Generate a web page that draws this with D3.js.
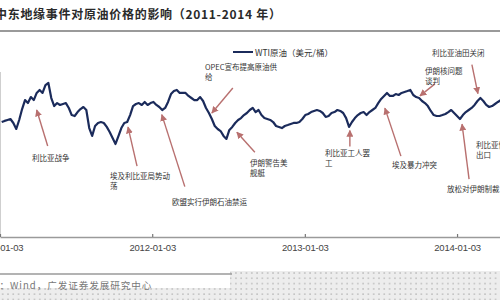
<!DOCTYPE html>
<html>
<head>
<meta charset="utf-8">
<script src="https://cdn.jsdelivr.net/npm/d3@7/dist/d3.min.js"></script>
<style>
  html, body { margin: 0; padding: 0; background: #fff; }
  svg { display: block; }
</style>
</head>
<body>
<svg id="chart" width="500" height="300"></svg>
<script>
// WTI crude, weekly (Friday) readings, USD per barrel
const wti2011 = [
  88.3, 89.0, 89.6, 90.2, 87.7, 83.9, 89.6, 96.5, 102.2, 100.3,
  104.1, 102.2, 106.7, 108.6, 106.7, 111.7, 113.0, 103.5, 98.4, 100.3,
  99.1, 99.7, 100.3, 97.2, 92.7, 92.1, 94.6, 96.5, 97.8, 95.9,
  84.5, 79.5, 85.8, 87.7, 88.3, 87.7, 85.2, 82.0, 78.2, 74.4,
  79.4, 84.5, 87.7, 88.3, 92.7, 98.4, 99.7, 100.3, 99.1, 101.0,
  99.1, 100.3
];
const wti2012 = [
  101.0, 99.1, 97.8, 95.9, 97.2, 101.0, 106.0, 107.9, 108.6, 106.7,
  106.7, 106.7, 104.8, 103.5, 102.2, 102.2, 104.1, 101.6, 97.2, 94.0,
  90.2, 85.8, 83.9, 82.6, 79.5, 77.6, 83.3, 85.2, 87.7, 89.6,
  90.8, 92.7, 94.0, 95.9, 97.2, 94.6, 95.9, 92.7, 90.8, 90.2,
  89.6, 88.3, 85.8, 85.2, 84.5, 85.8, 86.4, 87.1, 87.7, 87.7,
  88.3, 90.2
];
const wti2013 = [
  92.7, 93.4, 94.6, 95.3, 95.9, 95.3, 94.0, 91.5, 92.1, 94.0,
  94.6, 95.9, 95.3, 94.0, 90.8, 85.2, 88.3, 90.8, 92.7, 94.0,
  94.6, 92.7, 94.6, 95.9, 97.2, 100.3, 102.9, 104.8, 106.7, 104.8,
  104.8, 106.0, 105.4, 106.7, 107.3, 107.9, 108.6, 105.4, 104.1, 103.5,
  101.6, 100.3, 98.4, 95.3, 92.7, 92.1, 92.1, 92.7, 93.4, 94.6,
  95.9, 94.0
];
const wti2014 = [
  92.1, 90.2, 92.7, 94.6, 95.9, 97.2, 99.1, 101.6, 103.5, 101.6,
  99.1, 97.8, 98.4, 99.7, 101.0, 102.2
];

const tickDates = ["2011-01-03", "2012-01-03", "2013-01-03", "2014-01-03"];

// Geopolitical events and their labels
const eventDates = [
  "2011-04-01", "2011-11-06", "2012-01-26", "2012-05-25", "2012-07-24",
  "2013-04-21", "2013-07-14", "2013-10-06", "2014-02-22", "2014-01-15", null
];
const eventLabels = [
  ["利比亚战争"],
  ["埃及利比亚局势动", "荡"],
  ["欧盟实行伊朗石油禁运"],
  ["OPEC宣布提高原油供", "给"],
  ["伊朗警告美", "舰艇"],
  ["利比亚工人罢", "工"],
  ["埃及暴力冲突"],
  ["伊朗核问题", "谈判"],
  ["利比亚油田关闭"],
  ["放松对伊朗制裁"],
  ["利比亚恢复石油", "出口"]
];

const titleText = "中东地缘事件对原油价格的影响（2011-2014 年）";
const legendText = "WTI原油（美元/桶）";
const sourceLead = "资料来源：";
const sourceText = "Wind，广发证券发展研究中心";

// ---------- layout ----------
const W = 500, H = 300;
const axisY = 237;
const parse = d3.timeParse("%Y-%m-%d");
const prices = [].concat(wti2011, wti2012, wti2013, wti2014);
const fridays = d3.timeFriday.range(new Date(2011, 0, 7), new Date(2014, 4, 1)).slice(0, prices.length);
const series = prices.map((v, i) => ({ date: fridays[i], value: v }));

const x = d3.scaleTime()
  .domain([parse("2011-01-03"), parse("2014-04-16")])
  .range([0, W]);
const y = d3.scaleLinear().domain([70, 115]).range([150.94, 79.84]);

const svg = d3.select("#chart");
const cjk = "'Noto Sans CJK SC', 'Noto Sans', sans-serif";

// dotted backdrop along the bottom
const defs = svg.append("defs");
const pat = defs.append("pattern").attr("id", "dots")
  .attr("patternUnits", "userSpaceOnUse").attr("width", 5.3).attr("height", 5.3);
pat.append("rect").attr("width", 5.3).attr("height", 5.3).attr("fill", "#ededed");
pat.append("rect").attr("x", 2).attr("y", 2).attr("width", 1.4).attr("height", 1.4).attr("fill", "#b4b4b4");

const arrowColor = "#b8706f";
defs.append("marker").attr("id", "head")
  .attr("viewBox", "0 0 10 10").attr("refX", 9).attr("refY", 5)
  .attr("markerWidth", 5).attr("markerHeight", 5).attr("orient", "auto")
  .attr("markerUnits", "strokeWidth")
  .append("path").attr("d", "M0,0 L10,5 L0,10 z").attr("fill", arrowColor);

svg.append("path")
  .attr("d", "M230,271 H500 V300 H0 V288 H230 Z")
  .attr("fill", "url(#dots)");

// title and rule
svg.append("text")
  .attr("x", -5).attr("y", 19)
  .attr("font-family", cjk).attr("font-weight", "bold")
  .attr("font-size", 12).attr("letter-spacing", 0.7)
  .attr("fill", "#2a2a2a")
  .text(titleText);
svg.append("line").attr("x1", 0).attr("x2", W).attr("y1", 31).attr("y2", 31)
  .attr("stroke", "#9a9a9a").attr("stroke-width", 2);

// legend
svg.append("line").attr("x1", 233).attr("x2", 253).attr("y1", 52).attr("y2", 52)
  .attr("stroke", "#1b2b5b").attr("stroke-width", 2);
svg.append("text").attr("x", 255).attr("y", 55.5)
  .attr("font-family", cjk).attr("font-size", 8.5).attr("fill", "#333")
  .text(legendText);

// faint left edge of plot
svg.append("line").attr("x1", 0.5).attr("x2", 0.5).attr("y1", 72).attr("y2", axisY)
  .attr("stroke", "#cfcfcf").attr("stroke-width", 1);

// x axis
const axis = d3.axisBottom(x)
  .tickValues(tickDates.map(parse))
  .tickFormat(d3.timeFormat("%Y-%m-%d"))
  .tickSizeInner(-3).tickSizeOuter(0).tickPadding(7);
const gx = svg.append("g").attr("transform", `translate(0,${axisY})`).call(axis);
gx.select(".domain").attr("stroke", "#9a9a9a").attr("stroke-width", 1.6);
gx.selectAll(".tick line").attr("stroke", "#777").attr("stroke-width", 1.2);
gx.selectAll(".tick text")
  .attr("font-family", "'Liberation Sans', Arial, sans-serif")
  .attr("font-size", 9.5).attr("letter-spacing", -0.2).attr("fill", "#444");

// price line
const line = d3.line().x(d => x(d.date)).y(d => y(d.value));
svg.append("path").datum(series)
  .attr("d", line)
  .attr("fill", "none").attr("stroke", "#1b2b5b")
  .attr("stroke-width", 2.2).attr("stroke-linejoin", "round");

// price interpolated at an arbitrary date
const bis = d3.bisector(d => d.date).left;
function priceAt(date) {
  const i = Math.max(1, Math.min(series.length - 1, bis(series, date)));
  const a = series[i - 1], b = series[i];
  const t = (date - a.date) / (b.date - a.date);
  return a.value + (b.value - a.value) * Math.max(0, Math.min(1, t));
}

// annotation placement: gap between arrow tip and curve, tail offset, label origin
const notePlacement = [
  { gap: 17, tail: [11, 36], text: [32, 158] },
  { gap: 7, tail: [9, 39], text: [110, 176] },
  { gap: 5, tail: [23, 72], text: [172, 202] },
  { gap: -6, tail: [21, -25], text: [205, 67] },
  { gap: 11, tail: [18, 20], text: [250, 163] },
  { gap: 5, tail: [0, 16], text: [325, 153] },
  { gap: 13, tail: [16, 48], text: [392, 165] },
  { gap: -3, tail: [15, -12], text: [425, 71] },
  { gap: -7, tail: [-6, -29], text: [432, 53] },
  { gap: 8, tail: [7, 55], text: [447, 189] },
  { text: [476, 145] }
];

const notes = svg.append("g");
eventLabels.forEach((lines, i) => {
  const p = notePlacement[i];
  if (eventDates[i]) {
    const d = parse(eventDates[i]);
    const tx = x(d), ty = y(priceAt(d)) + p.gap;
    notes.append("line")
      .attr("x1", tx + p.tail[0]).attr("y1", ty + p.tail[1])
      .attr("x2", tx).attr("y2", ty)
      .attr("stroke", arrowColor).attr("stroke-width", 1.4)
      .attr("marker-end", "url(#head)");
  }
  const t = notes.append("text")
    .attr("font-family", cjk).attr("font-size", 7.5).attr("fill", "#333");
  lines.forEach((s, j) => {
    t.append("tspan").attr("x", p.text[0]).attr("y", p.text[1] + 2.7 + j * 10.5).text(s);
  });
});

// source line
svg.append("line").attr("x1", 0).attr("x2", 232).attr("y1", 274).attr("y2", 274)
  .attr("stroke", "#9a9a9a").attr("stroke-width", 1.5);
svg.append("text").attr("x", 9).attr("y", 288.5).attr("text-anchor", "end")
  .attr("font-family", cjk).attr("font-size", 9.5).attr("fill", "#777")
  .text(sourceLead);
svg.append("text").attr("x", 10).attr("y", 288.5)
  .attr("font-family", cjk).attr("font-size", 9.5).attr("letter-spacing", 1)
  .attr("fill", "#777")
  .text(sourceText);
</script>
</body>
</html>
